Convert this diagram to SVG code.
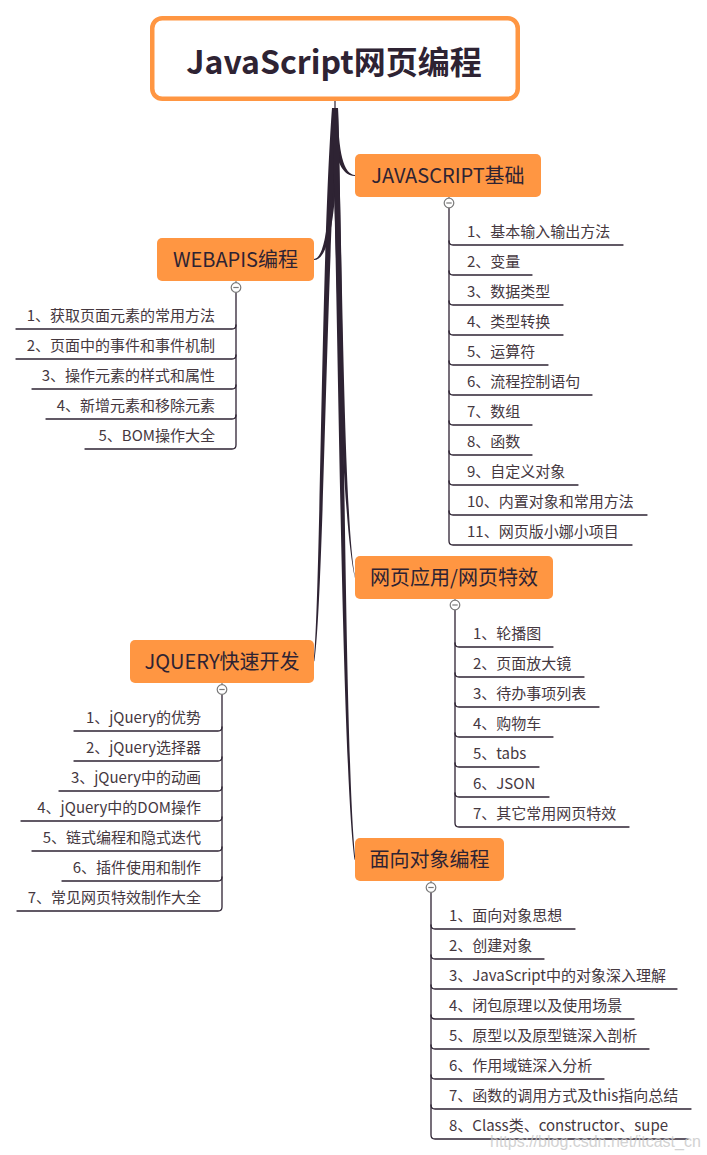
<svg xmlns="http://www.w3.org/2000/svg" width="707" height="1155" viewBox="0 0 707 1155">
<defs>
<style>
.root{fill:#fff;stroke:#FF9642;stroke-width:4.5}
.rootT{font-family:"Noto Sans CJK SC",sans-serif;font-size:32px;font-weight:bold;fill:#2E2333;text-anchor:middle}
.br{fill:#FF9642}
.brT{font-family:"Noto Sans CJK SC",sans-serif;font-size:20px;fill:#2E2333;text-anchor:middle}
.tr{fill:#2E2333}
.ch{font-family:"Noto Sans CJK SC",sans-serif;font-size:15px;fill:#45383F}
.end{text-anchor:end}
.ln{fill:none;stroke:#2E2333;stroke-width:1.3;stroke-linecap:round}
.cc{fill:#fff;stroke:#7a7a7a;stroke-width:1.2}
.cm{stroke:#7a7a7a;stroke-width:1.2}
.wm{font-family:"Liberation Sans",Arial,sans-serif;font-size:16px;fill:#c8c8c8;opacity:0.8}
</style>
</defs>
<rect width="707" height="1155" fill="#fff"/>

<g id="connectors">
<line x1="335" y1="100" x2="335" y2="109" stroke="#2E2333" stroke-width="1.2"/>
<path class="tr" d="M332,108 Q332,176.1 355,176.1 L355,174.9 Q338,174.9 338,108 Z"/>
<path class="tr" d="M338,108 Q338,260.1 314,260.1 L314,258.9 Q332,258.9 332,108 Z"/>
<path class="tr" d="M332,108 C337.2,300 341.4,520 355,578 L355,577 C344.6,520 342.8,300 338,108 Z"/>
<path class="tr" d="M332,108 C321.2,250 320.4,600 313.6,662 L314.4,661 C323.6,600 326.8,250 338,108 Z"/>
<path class="tr" d="M332,108 C338.2,300 341.4,760 354.6,860 L355.4,859 C344.6,760 343.8,300 338,108 Z"/>

<!-- JS基础 children -->
<path class="ln" d="M449,208 V541 Q449,545 453,545 H632"/>
<path class="ln" d="M449,241 Q449,245 453,245 H623"/>
<path class="ln" d="M449,271 Q449,275 453,275 H532"/>
<path class="ln" d="M449,301 Q449,305 453,305 H563"/>
<path class="ln" d="M449,331 Q449,335 453,335 H563"/>
<path class="ln" d="M449,361 Q449,365 453,365 H548"/>
<path class="ln" d="M449,391 Q449,395 453,395 H592"/>
<path class="ln" d="M449,421 Q449,425 453,425 H532"/>
<path class="ln" d="M449,451 Q449,455 453,455 H532"/>
<path class="ln" d="M449,481 Q449,485 453,485 H578"/>
<path class="ln" d="M449,511 Q449,515 453,515 H647"/>

<!-- WEBAPIS children -->
<path class="ln" d="M236,293 V445 Q236,449 232,449 H85"/>
<path class="ln" d="M236,325 Q236,329 232,329 H16"/>
<path class="ln" d="M236,355 Q236,359 232,359 H16"/>
<path class="ln" d="M236,385 Q236,389 232,389 H32"/>
<path class="ln" d="M236,415 Q236,419 232,419 H46"/>

<!-- 网页应用 children -->
<path class="ln" d="M455,610 V823 Q455,827 459,827 H629"/>
<path class="ln" d="M455,643 Q455,647 459,647 H553"/>
<path class="ln" d="M455,673 Q455,677 459,677 H584"/>
<path class="ln" d="M455,703 Q455,707 459,707 H599"/>
<path class="ln" d="M455,733 Q455,737 459,737 H553"/>
<path class="ln" d="M455,763 Q455,767 459,767 H539"/>
<path class="ln" d="M455,793 Q455,797 459,797 H549"/>

<!-- JQUERY children -->
<path class="ln" d="M222,695 V907 Q222,911 218,911 H17"/>
<path class="ln" d="M222,727 Q222,731 218,731 H74"/>
<path class="ln" d="M222,757 Q222,761 218,761 H74"/>
<path class="ln" d="M222,787 Q222,791 218,791 H59"/>
<path class="ln" d="M222,817 Q222,821 218,821 H21"/>
<path class="ln" d="M222,847 Q222,851 218,851 H32"/>
<path class="ln" d="M222,877 Q222,881 218,881 H62"/>

<!-- OOP children -->
<path class="ln" d="M431,893 V1135 Q431,1139 435,1139 H688"/>
<path class="ln" d="M431,925 Q431,929 435,929 H575"/>
<path class="ln" d="M431,955 Q431,959 435,959 H544"/>
<path class="ln" d="M431,985 Q431,989 435,989 H677"/>
<path class="ln" d="M431,1015 Q431,1019 435,1019 H634"/>
<path class="ln" d="M431,1045 Q431,1049 435,1049 H649"/>
<path class="ln" d="M431,1075 Q431,1079 435,1079 H604"/>
<path class="ln" d="M431,1105 Q431,1109 435,1109 H691"/>
</g>

<g id="root">
<rect class="root" x="152.25" y="18.25" width="365.5" height="80.5" rx="10"/>
<text class="rootT" x="334" y="74">JavaScript网页编程</text>
</g>

<g id="js-basics">
<rect class="br" x="355" y="154" width="186" height="43" rx="5"/>
<text class="brT" x="448" y="183">JAVASCRIPT基础</text>
<line class="cm" x1="449" y1="197" x2="449" y2="198"/>
<circle class="cc" cx="449" cy="203" r="4.8"/>
<line class="cm" x1="446.3" y1="203" x2="451.7" y2="203"/>
<text class="ch" x="467" y="236.5">1、基本输入输出方法</text>
<text class="ch" x="467" y="266.5">2、变量</text>
<text class="ch" x="467" y="296.5">3、数据类型</text>
<text class="ch" x="467" y="326.5">4、类型转换</text>
<text class="ch" x="467" y="356.5">5、运算符</text>
<text class="ch" x="467" y="386.5">6、流程控制语句</text>
<text class="ch" x="467" y="416.5">7、数组</text>
<text class="ch" x="467" y="446.5">8、函数</text>
<text class="ch" x="467" y="476.5">9、自定义对象</text>
<text class="ch" x="467" y="506.5">10、内置对象和常用方法</text>
<text class="ch" x="467" y="536.5">11、网页版小娜小项目</text>
</g>

<g id="webapis">
<rect class="br" x="157" y="238" width="157" height="43" rx="5"/>
<text class="brT" x="235.5" y="267">WEBAPIS编程</text>
<line class="cm" x1="236" y1="281" x2="236" y2="283"/>
<circle class="cc" cx="236" cy="287.5" r="4.8"/>
<line class="cm" x1="233.3" y1="287.5" x2="238.7" y2="287.5"/>
<text class="ch end" x="215" y="320.5">1、获取页面元素的常用方法</text>
<text class="ch end" x="215" y="350.5">2、页面中的事件和事件机制</text>
<text class="ch end" x="215" y="380.5">3、操作元素的样式和属性</text>
<text class="ch end" x="215" y="410.5">4、新增元素和移除元素</text>
<text class="ch end" x="215" y="440.5">5、BOM操作大全</text>
</g>

<g id="web-effects">
<rect class="br" x="355" y="556" width="198" height="43" rx="5"/>
<text class="brT" x="454" y="585">网页应用/网页特效</text>
<line class="cm" x1="455" y1="599" x2="455" y2="601"/>
<circle class="cc" cx="455" cy="605" r="4.8"/>
<line class="cm" x1="452.3" y1="605" x2="457.7" y2="605"/>
<text class="ch" x="473" y="638.5">1、轮播图</text>
<text class="ch" x="473" y="668.5">2、页面放大镜</text>
<text class="ch" x="473" y="698.5">3、待办事项列表</text>
<text class="ch" x="473" y="728.5">4、购物车</text>
<text class="ch" x="473" y="758.5">5、tabs</text>
<text class="ch" x="473" y="788.5">6、JSON</text>
<text class="ch" x="473" y="818.5">7、其它常用网页特效</text>
</g>

<g id="jquery">
<rect class="br" x="130" y="640" width="184" height="43" rx="5"/>
<text class="brT" x="222" y="669">JQUERY快速开发</text>
<line class="cm" x1="222" y1="683" x2="222" y2="685"/>
<circle class="cc" cx="222" cy="689.5" r="4.8"/>
<line class="cm" x1="219.3" y1="689.5" x2="224.7" y2="689.5"/>
<text class="ch end" x="201" y="722.5">1、jQuery的优势</text>
<text class="ch end" x="201" y="752.5">2、jQuery选择器</text>
<text class="ch end" x="201" y="782.5">3、jQuery中的动画</text>
<text class="ch end" x="201" y="812.5">4、jQuery中的DOM操作</text>
<text class="ch end" x="201" y="842.5">5、链式编程和隐式迭代</text>
<text class="ch end" x="201" y="872.5">6、插件使用和制作</text>
<text class="ch end" x="201" y="902.5">7、常见网页特效制作大全</text>
</g>

<g id="oop">
<rect class="br" x="355" y="838" width="149" height="43" rx="5"/>
<text class="brT" x="429.5" y="867">面向对象编程</text>
<line class="cm" x1="431" y1="881" x2="431" y2="883"/>
<circle class="cc" cx="431" cy="887.5" r="4.8"/>
<line class="cm" x1="428.3" y1="887.5" x2="433.7" y2="887.5"/>
<text class="ch" x="449" y="920.5">1、面向对象思想</text>
<text class="ch" x="449" y="950.5">2、创建对象</text>
<text class="ch" x="449" y="980.5">3、JavaScript中的对象深入理解</text>
<text class="ch" x="449" y="1010.5">4、闭包原理以及使用场景</text>
<text class="ch" x="449" y="1040.5">5、原型以及原型链深入剖析</text>
<text class="ch" x="449" y="1070.5">6、作用域链深入分析</text>
<text class="ch" x="449" y="1100.5">7、函数的调用方式及this指向总结</text>
<text class="ch" x="449" y="1130.5">8、Class类、constructor、supe</text>
</g>

<text class="wm" x="490" y="1147">https://blog.csdn.net/itcast_cn</text>
</svg>
